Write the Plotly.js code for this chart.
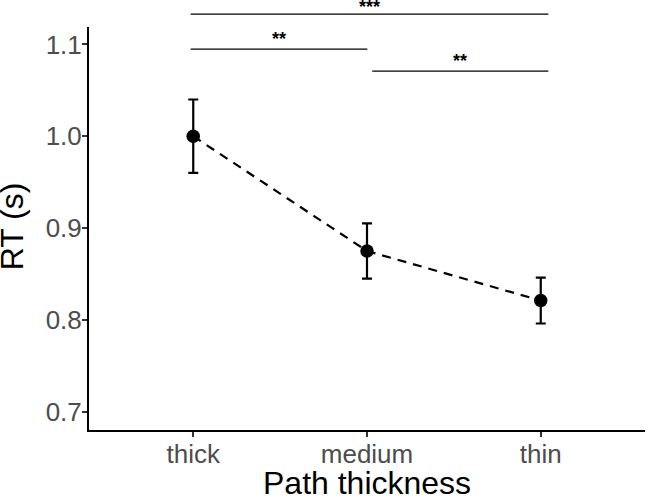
<!DOCTYPE html>
<html>
<head>
<meta charset="utf-8">
<script src="https://cdn.plot.ly/plotly-3.0.1.min.js"></script>
<style>
  html, body { margin: 0; padding: 0; background: #ffffff; }
  #chart { width: 648px; height: 499px; }
</style>
</head>
<body>
<div id="chart"></div>
<script>
// Mean response time per path thickness condition, with standard errors
const categories = ['thick', 'medium', 'thin'];
const meanRT = [1.0, 0.875, 0.821];
const seRT = [0.04, 0.03, 0.025];

// Pairwise comparison brackets (category-index span, bracket height in s, label)
const bracketStart = [-0.015, -0.015, 1.03];
const bracketEnd = [2.044, 1.002, 2.044];
const bracketLevel = [1.133, 1.095, 1.071];
const bracketLabel = ['***', '**', '**'];

const yTickVals = [0.7, 0.8, 0.9, 1.0, 1.1];
const yRange = [0.680, 1.119];
const xRange = [-0.6, 2.6];

const xTitle = 'Path thickness';
const yTitle = 'RT (s)';

const fontFamily = 'Liberation Sans, Arial, Helvetica, sans-serif';

const trace = {
  type: 'scatter',
  mode: 'lines+markers',
  x: categories,
  y: meanRT,
  line: { color: '#000000', width: 2.2, dash: '9px,7px' },
  marker: { color: '#000000', size: 13.5 },
  error_y: {
    type: 'data',
    array: seRT,
    visible: true,
    color: '#000000',
    thickness: 2.2,
    width: 5
  },
  cliponaxis: false,
  hoverinfo: 'x+y'
};

// Brackets sit above the plotting region, so their height is mapped to paper units
const toPaper = v => (v - yRange[0]) / (yRange[1] - yRange[0]);

const shapes = bracketLevel.map((lvl, i) => ({
  type: 'line',
  xref: 'x',
  yref: 'paper',
  x0: bracketStart[i],
  x1: bracketEnd[i],
  y0: toPaper(lvl),
  y1: toPaper(lvl),
  line: { color: '#000000', width: 1.2 }
}));

const annotations = bracketLevel.map((lvl, i) => ({
  xref: 'x',
  yref: 'paper',
  x: (bracketStart[i] + bracketEnd[i]) / 2,
  y: toPaper(lvl),
  yanchor: 'middle',
  xanchor: 'center',
  yshift: i === 0 ? 7 : 10,
  showarrow: false,
  text: '<b>' + bracketLabel[i] + '</b>',
  font: { family: fontFamily, size: 18, color: '#000000' }
}));

// Axis titles, placed in the margins next to the tick labels
annotations.push({
  xref: 'paper', yref: 'paper',
  x: 0.5, y: -0.132,
  xanchor: 'center', yanchor: 'middle',
  showarrow: false,
  text: xTitle,
  font: { family: fontFamily, size: 32, color: '#000000' }
});
annotations.push({
  xref: 'paper', yref: 'paper',
  x: -0.137, y: 0.505,
  xanchor: 'center', yanchor: 'middle',
  textangle: -90,
  showarrow: false,
  text: yTitle,
  font: { family: fontFamily, size: 32, color: '#000000' }
});

const layout = {
  width: 648,
  height: 499,
  margin: { l: 89, r: 3, t: 27, b: 69, pad: 0 },
  paper_bgcolor: '#ffffff',
  plot_bgcolor: '#ffffff',
  showlegend: false,
  font: { family: fontFamily, color: '#000000' },
  xaxis: {
    type: 'category',
    range: xRange,
    showgrid: false,
    zeroline: false,
    showline: true,
    linecolor: '#000000',
    linewidth: 2,
    ticks: 'outside',
    ticklen: 5,
    tickwidth: 2,
    tickcolor: '#333333',
    ticklabelstandoff: -5,
    tickfont: { family: fontFamily, size: 26, color: '#4d4d4d' },
    automargin: false
  },
  yaxis: {
    range: yRange,
    tickmode: 'array',
    tickvals: yTickVals,
    tickformat: '.1f',
    showgrid: false,
    zeroline: false,
    showline: true,
    linecolor: '#000000',
    linewidth: 2,
    ticks: 'outside',
    ticklen: 5,
    tickwidth: 2,
    tickcolor: '#333333',
    ticklabelstandoff: -5,
    tickfont: { family: fontFamily, size: 26, color: '#4d4d4d' },
    automargin: false
  },
  shapes: shapes,
  annotations: annotations
};

Plotly.newPlot('chart', [trace], layout, { displayModeBar: false, staticPlot: true });
</script>
</body>
</html>
